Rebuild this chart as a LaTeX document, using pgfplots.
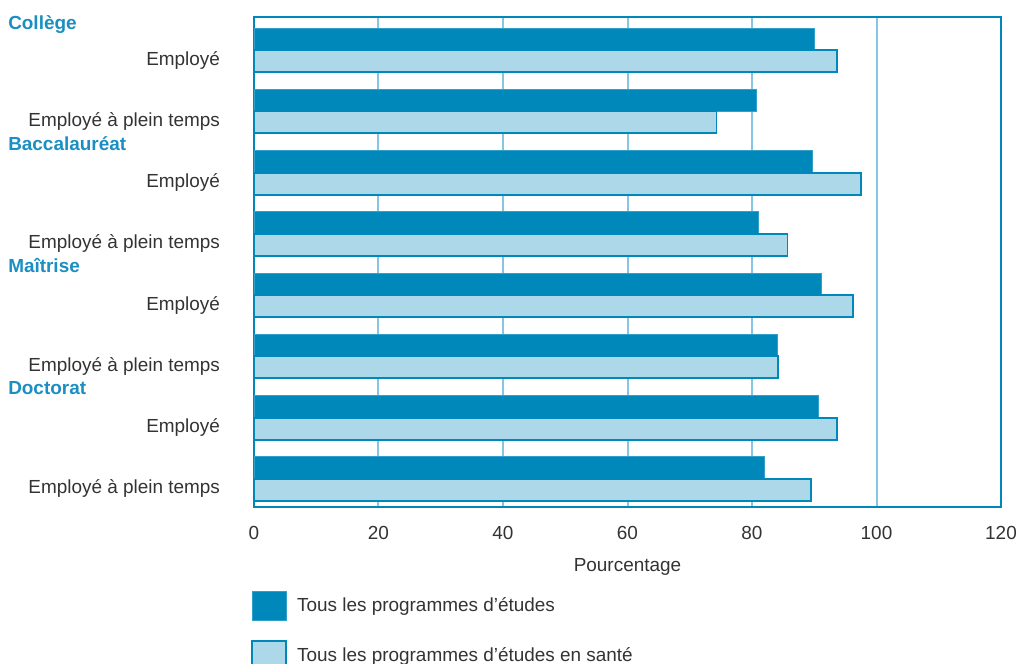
\documentclass[border=0pt]{standalone}
\usepackage{fontspec}
\setmainfont{Liberation Sans}
\usepackage{pgfplots}
\pgfplotsset{compat=1.18}
\definecolor{darkb}{HTML}{0088BB}
\definecolor{lightb}{HTML}{ADD8EA}
\definecolor{gridb}{HTML}{86C6E4}
\definecolor{headb}{HTML}{1B8EC2}
\definecolor{txt}{HTML}{333333}
\begin{document}
\begin{tikzpicture}[font=\fontsize{14.2}{17}\selectfont]
\begin{axis}[
  scale only axis, width=560.25pt, height=367.5pt,
  xbar=0pt, bar width=16.5pt,
  xmin=0, xmax=120, ymin=-0.54, ymax=7.46, y dir=reverse,
  xtick={0,20,...,120}, ytick={0,...,7},
  yticklabels={Employé, Employé à plein temps, Employé, Employé à plein temps, Employé, Employé à plein temps, Employé, Employé à plein temps},
  major tick length=0pt,
  xmajorgrids, grid style={gridb, line width=1.5pt},
  axis line style={darkb, line width=1.5pt},
  /pgf/number format/assume math mode=true,
  tick label style={text=txt},
  xticklabel style={yshift=-11pt},
  yticklabel style={xshift=-22pt, yshift=-7.5pt},
  xlabel={Pourcentage}, xlabel style={text=txt, yshift=-7.5pt},
  clip=false,
  legend style={at={(-0.0094,-0.1653)}, anchor=north west, draw=none, fill=none,
    row sep=14pt, font=\fontsize{14.2}{17}\selectfont, text=txt},
  legend cell align=left,
  legend image code/.code={\draw[#1] (0pt,-11pt) rectangle (25.5pt,11pt); \path (31pt,0pt);},
]
\addplot[fill=darkb, draw=darkb!80!white, line width=0.6pt, bar shift=8.25pt] coordinates {
  (90.0,0) (80.7,1) (89.7,2) (81.1,3) (91.2,4) (84.0,5) (90.6,6) (82.0,7)};
\addplot[fill=lightb, draw=darkb, line width=1.4pt, bar shift=-8.25pt] coordinates {
  (93.7,0) (74.3,1) (97.5,2) (85.7,3) (96.2,4) (84.2,5) (93.7,6) (89.5,7)};
\legend{Tous les programmes d'études, Tous les programmes d'études en santé}
\node[anchor=west, inner sep=0pt, font=\fontsize{14.2}{17}\selectfont\bfseries, text=headb] at ([xshift=-184.5pt,yshift=-3.75pt]axis cs:0,-0.5) {Collège};
\node[anchor=west, inner sep=0pt, font=\fontsize{14.2}{17}\selectfont\bfseries, text=headb] at ([xshift=-184.5pt,yshift=-1.5pt]axis cs:0,1.5) {Baccalauréat};
\node[anchor=west, inner sep=0pt, font=\fontsize{14.2}{17}\selectfont\bfseries, text=headb] at ([xshift=-184.5pt,yshift=-0.75pt]axis cs:0,3.5) {Maîtrise};
\node[anchor=west, inner sep=0pt, font=\fontsize{14.2}{17}\selectfont\bfseries, text=headb] at ([xshift=-184.5pt,yshift=-0.75pt]axis cs:0,5.5) {Doctorat};
\end{axis}
\pgfresetboundingbox
\path[use as bounding box] (-190.5pt,-117.75pt) rectangle (575.25pt,380.25pt);
\end{tikzpicture}
\end{document}
